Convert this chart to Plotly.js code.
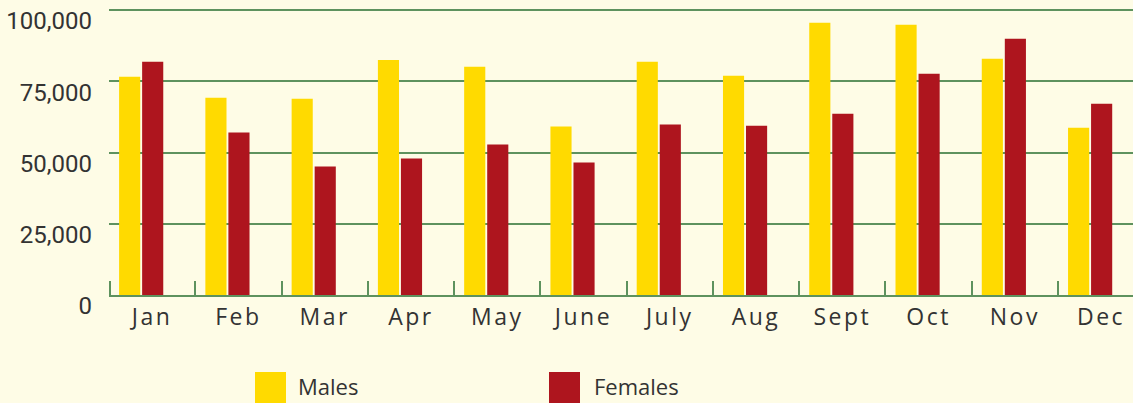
<!DOCTYPE html>
<html><head><meta charset="utf-8">
<script src="https://cdn.plot.ly/plotly-3.0.1.min.js"></script>
<style>html,body{margin:0;padding:0;background:#FEFCE6;}#chart{width:1133px;height:403px;}
#chart .xtick text{letter-spacing:2.5px;}</style>
</head><body><div id="chart"></div>
<script>
var months = ["Jan","Feb","Mar","Apr","May","June","July","Aug","Sept","Oct","Nov","Dec"];
var males = [76600, 69200, 68900, 82500, 80100, 59100, 81800, 76900, 95500, 94800, 82900, 58700];
var females = [81800, 57000, 45100, 47900, 52800, 46500, 59800, 59400, 63600, 77600, 89900, 67100];
var yTicks = [0, 25000, 50000, 75000, 100000];
var yTickLabels = ["0", "25,000", "50,000", "75,000", "100,000"];

var traces = [
  {type:"bar", name:"Males", x:months, y:males, marker:{color:"#FFDA00"}, offset:-0.383, width:0.245, hoverinfo:"y"},
  {type:"bar", name:"Females", x:months, y:females, marker:{color:"#AE151E"}, offset:-0.116, width:0.245, hoverinfo:"y"}
];
var layout = {
  width:1133, height:403,
  margin:{l:109, r:0, t:7, b:108},
  paper_bgcolor:"#FEFCE6", plot_bgcolor:"#FEFCE6",
  showlegend:false,
  font:{family:"Open Sans, sans-serif", color:"#333333"},
  xaxis:{type:"category", range:[-0.5, 11.37], tickson:"boundaries", ticks:"inside", ticklen:14, tickwidth:2,
         tickcolor:"#5E925E", showline:true, linecolor:"#5E925E", linewidth:2, showgrid:false,
         tickfont:{size:23, family:"Open Sans, sans-serif", color:"#333333"}, fixedrange:true},
  yaxis:{range:[0, 101053], tickvals:yTicks, ticktext:yTickLabels, showgrid:true, gridcolor:"#5E925E", gridwidth:2,
         zeroline:false, showline:false, ticks:"", ticklabelshift:11, ticklabelstandoff:16,
         tickfont:{size:24, family:"Roboto, sans-serif", color:"#333333"}, fixedrange:true},
  shapes:[
    {type:"rect", xref:"paper", yref:"paper", x0:(255-109)/1024, x1:(286-109)/1024, y0:-(372-295)/288, y1:-(403-295)/288, fillcolor:"#FFDA00", line:{width:0}},
    {type:"rect", xref:"paper", yref:"paper", x0:(549-109)/1024, x1:(580-109)/1024, y0:-(372-295)/288, y1:-(403-295)/288, fillcolor:"#AE151E", line:{width:0}},
    {type:"line", xref:"paper", yref:"paper", x0:0.001, x1:0.001, y0:0, y1:14/288, line:{color:"#5E925E", width:2}}
  ],
  annotations:[
    {text:traces[0].name, xref:"paper", yref:"paper", x:(296-109)/1024, y:-(386-295)/288, xanchor:"left", yanchor:"middle", showarrow:false, font:{size:22, color:"#333333"}},
    {text:traces[1].name, xref:"paper", yref:"paper", x:(592-109)/1024, y:-(386-295)/288, xanchor:"left", yanchor:"middle", showarrow:false, font:{size:22, color:"#333333"}}
  ]
};
Plotly.newPlot("chart", traces, layout, {displayModeBar:false, staticPlot:true});
</script></body></html>
